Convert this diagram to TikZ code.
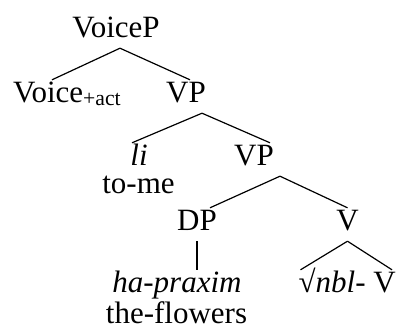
\documentclass[tikz,border=0pt]{standalone}
\usepackage{fontspec}
\setmainfont{Liberation Serif}

\begin{document}
\begin{tikzpicture}[
    x=1pt, y=-1pt,
    font=\fontsize{31}{36}\selectfont,
    word/.style={
        anchor=base,
        inner sep=0pt,
        text height=22pt,
        text depth=11pt
    },
    gloss/.style={
        anchor=base,
        inner sep=0pt
    },
    branch/.style={
        line width=1.2pt
    }
]
\useasboundingbox (0,0) rectangle (397,327);

% Labels
\node[word] (voicep) at (116,37) {VoiceP};
\node[word, anchor=base west] (voice) at (13,102) {Voice\textsubscript{+act}};
\node[word] (vp1) at (186,102) {VP};
\node[word] (li) at (139,165) {\textit{li}};
\node[gloss] (tome) at (138.5,193) {to-me};
\node[word] (vp2) at (254,165) {VP};
\node[word] (dp) at (197,230) {DP};
\node[word] (v) at (347.5,230) {V};
\node[word] (praxim) at (177,292) {\textit{ha-praxim}};
\node[gloss] (flowers) at (176.5,323) {the-flowers};
\node[word, anchor=base east] (root) at (396,292) {√\textit{nbl}- V};

% Branches
\draw[branch] ([xshift=4pt]voicep.south) -- ([xshift=39pt]voice.north west);
\draw[branch] ([xshift=4pt]voicep.south) -- ([xshift=4pt]vp1.north);
\draw[branch] ([xshift=16pt]vp1.south) -- ([xshift=-7pt]li.north);
\draw[branch] ([xshift=16pt]vp1.south) -- ([xshift=16pt]vp2.north);
\draw[branch] ([xshift=26pt]vp2.south) -- ([xshift=13pt]dp.north);
\draw[branch] ([xshift=26pt]vp2.south) -- (v.north);
\draw[branch] (dp.south) -- (dp.south |- praxim.north);
\draw[branch] (v.south) -- ([xshift=2pt]root.north west);
\draw[branch] (v.south) -- ([xshift=-4pt]root.north east);

\end{tikzpicture}
\end{document}
